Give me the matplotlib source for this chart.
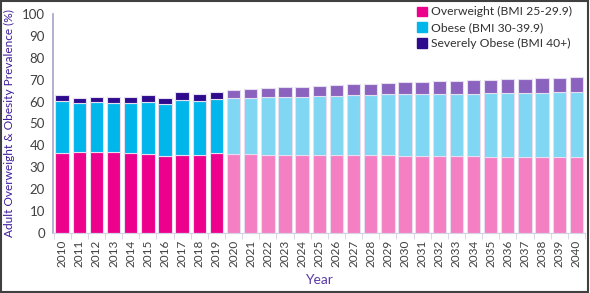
import numpy as np
import matplotlib
matplotlib.use("Agg")
import matplotlib.pyplot as plt
from matplotlib.patches import Patch

# Years and stacked values (%)
years = list(range(2010, 2041))
overweight = [36.7, 36.8, 37.1, 37.1, 36.4, 35.9, 35.3, 35.8, 35.8, 36.5,
              35.9, 35.9, 35.6, 35.6, 35.6, 35.6, 35.5, 35.5, 35.5, 35.5,
              35.0, 35.0, 35.1, 35.1, 35.1, 34.7, 34.7, 34.7, 34.7, 34.7, 34.7]
obese_top = [60.4, 59.4, 59.7, 59.5, 59.4, 60.0, 58.8, 60.9, 60.4, 61.2,
             61.8, 61.8, 62.1, 62.1, 62.2, 62.6, 62.7, 63.0, 63.0, 63.3,
             63.3, 63.5, 63.6, 63.6, 63.6, 63.9, 63.9, 63.9, 64.0, 64.2, 64.2]
total = [62.9, 61.8, 62.1, 62.2, 62.0, 62.9, 61.6, 64.2, 63.3, 64.2,
         65.4, 65.8, 66.1, 66.5, 66.8, 67.1, 67.6, 67.9, 68.2, 68.5,
         68.8, 69.1, 69.4, 69.4, 69.7, 70.0, 70.3, 70.3, 70.6, 70.6, 71.1]
first_projected = 2020

obese = [o - w for o, w in zip(obese_top, overweight)]
severe = [t - o for t, o in zip(total, obese_top)]

plt.rcParams["font.family"] = ["Lato", "DejaVu Sans"]

fig = plt.figure(figsize=(5.9, 2.93), dpi=100)
ax = fig.add_axes([0.09, 0.205, 0.902, 0.747])

x = np.arange(len(years))
proj = np.array(years) >= first_projected
col_ow = np.where(proj, "#F47FC2", "#EC008C")
col_ob = np.where(proj, "#7FD7F4", "#00B6EB")
col_so = np.where(proj, "#8B62BE", "#2E0A8C")

kw = dict(width=0.78, edgecolor="#E4DEF0", linewidth=0.8)
ax.bar(x, overweight, color=col_ow, **kw)
ax.bar(x, obese, bottom=overweight, color=col_ob, **kw)
ax.bar(x, severe, bottom=obese_top, color=col_so, **kw)

ax.set_xlim(-0.53, len(years) - 0.48)
ax.set_ylim(0, 100)
ax.set_yticks(range(0, 101, 10))
ax.set_xticks(x)
ax.set_xticklabels([str(y) for y in years], rotation=90)
ax.set_xticks(np.arange(-0.5, len(years), 1), minor=True)
ax.tick_params(axis="x", which="major", length=0, labelsize=8.5,
               labelcolor="#404040", pad=5)
ax.tick_params(axis="x", which="minor", length=4, color="#D6D0E8")
ax.tick_params(axis="y", length=0, labelsize=9.5, labelcolor="#404040", pad=6)

for s in ["top", "right"]:
    ax.spines[s].set_visible(False)
ax.spines["left"].set_color("#A8A2C8")
ax.spines["left"].set_linewidth(1.2)
ax.spines["bottom"].set_color("#D6D0E8")

ax.set_ylabel("Adult Overweight & Obesity Prevalence (%)", color="#3D1C9C",
              fontsize=8.6)
ax.yaxis.set_label_coords(-0.072, 0.5)
ax.set_xlabel("Year", color="#5A3AA8", fontsize=10, labelpad=5)

handles = [Patch(color="#EC008C", label="Overweight (BMI 25-29.9)"),
           Patch(color="#00B6EB", label="Obese (BMI 30-39.9)"),
           Patch(color="#2E0A8C", label="Severely Obese (BMI 40+)")]
ax.legend(handles=handles, loc="upper right", bbox_to_anchor=(0.995, 1.085),
          frameon=False, fontsize=8.7, handlelength=0.8, handleheight=0.8,
          handletextpad=0.3, labelspacing=0.4, labelcolor="#303030")

# dark frame around the picture
fig.patches.append(plt.Rectangle((0.002, 0.003), 0.994, 0.994, transform=fig.transFigure,
                                 fill=False, edgecolor="#404040", linewidth=1.5))

fig.savefig("out.png", dpi=100)
